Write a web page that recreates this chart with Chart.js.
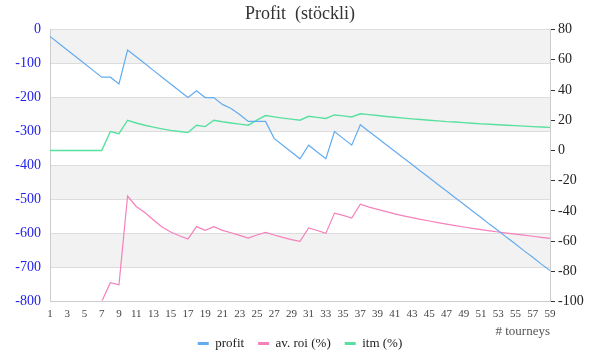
<!DOCTYPE html>
<html><head><meta charset="utf-8">
<script src="https://cdn.jsdelivr.net/npm/chart.js@4.4.0/dist/chart.umd.min.js"></script>
<style>html,body{margin:0;padding:0;background:#fff}</style>
</head><body>
<canvas id="c" width="600" height="360"></canvas>
<script>
const tourneys = ['1','2','3','4','5','6','7','8','9','10','11','12','13','14','15','16','17','18','19','20',
  '21','22','23','24','25','26','27','28','29','30','31','32','33','34','35','36','37','38','39','40',
  '41','42','43','44','45','46','47','48','49','50','51','52','53','54','55','56','57','58','59'];

const profit = [-20,-40,-60,-80,-100,-120,-140,-140,-160,-60,
  -80,-100,-120,-140,-160,-180,-200,-180,-200,-200,
  -220,-232,-250,-270,-270,-270,-320,-340,-360,-380,
  -340,-360,-380,-300,-320,-340,-280,-300,-319,-339,
  -358,-378,-397,-417,-436,-456,-475,-495,-514,-534,
  -553,-573,-592,-612,-631,-651,-670,-690,-709];

const avRoi = [-100,-100,-100,-100,-100,-100,-100,-87.6,-88.9,-30.2,
  -37.1,-41.1,-46,-50.7,-54,-56.5,-58.7,-50.4,-52.9,-50.4,
  -52.9,-54.5,-56.2,-58,-56,-54.2,-56,-57.6,-59,-60.2,
  -51.3,-53,-54.9,-41.5,-43,-44.7,-35.6,-37.5,-39,-40.5,
  -42,-43.3,-44.5,-45.6,-46.7,-47.8,-48.8,-49.8,-50.7,-51.6,
  -52.4,-53.2,-54,-54.7,-55.4,-56.1,-56.8,-57.5,-58.2];

const itm = [0,0,0,0,0,0,0,12.5,11.1,20,
  18.2,16.7,15.4,14.3,13.3,12.5,11.8,16.7,15.8,20,
  19.0,18.2,17.4,16.7,20,23.1,22.2,21.4,20.7,20,
  22.6,21.9,21.2,23.5,22.9,22.2,24.3,23.7,23.1,22.5,
  22.0,21.4,20.9,20.5,20,19.6,19.1,18.8,18.4,18,
  17.6,17.3,17,16.7,16.4,16.1,15.8,15.5,15.3];

const leftTicks = {min: -800, max: 0, step: 100};
const rightTicks = {min: -100, max: 80, step: 10, labelEvery: 20};

const SERIF = "'Liberation Serif', 'DejaVu Serif', serif";

const bandPlugin = {
  id: 'bands',
  beforeDraw(chart) {
    const {ctx, chartArea} = chart;
    const y = chart.scales.yL;
    ctx.save();
    ctx.fillStyle = '#f2f2f2';
    for (let v = leftTicks.max; v > leftTicks.min; v -= 2 * leftTicks.step) {
      const t = y.getPixelForValue(v), b = y.getPixelForValue(v - leftTicks.step);
      ctx.fillRect(chartArea.left, t, chartArea.right - chartArea.left, b - t);
    }
    ctx.restore();
  }
};

new Chart(document.getElementById('c'), {
  type: 'line',
  data: {
    labels: tourneys,
    datasets: [
      {label: 'profit', data: profit, yAxisID: 'yL', borderColor: 'rgb(100,172,240)', borderWidth: 1.2, pointRadius: 0, tension: 0},
      {label: 'av. roi (%)', data: avRoi, yAxisID: 'yR', borderColor: 'rgb(245,128,188)', borderWidth: 1.2, pointRadius: 0, tension: 0,
       clip: {left: 2, top: 2, right: 2, bottom: -1}},
      {label: 'itm (%)', data: itm, yAxisID: 'yR', borderColor: 'rgb(88,224,160)', borderWidth: 1.4, pointRadius: 0, tension: 0}
    ]
  },
  options: {
    responsive: false,
    animation: false,
    devicePixelRatio: 1,
    layout: {padding: {left: 0, right: 0, top: 0, bottom: 0}},
    plugins: {
      title: {display: true, text: 'Profit  (stöckli)', color: '#333',
        font: {family: SERIF, size: 18, weight: 'normal', lineHeight: 1.2}, padding: {top: 3, bottom: 5}},
      legend: {position: 'bottom',
        labels: {font: {family: SERIF, size: 13}, color: '#222', usePointStyle: true, pointStyle: 'line',
          pointStyleWidth: 11, boxHeight: 13, padding: 14,
          generateLabels(chart) {
            const items = Chart.defaults.plugins.legend.labels.generateLabels(chart);
            items.forEach(it => { it.lineWidth = 3; it.pointStyle = 'line'; });
            return items;
          }}},
      tooltip: {enabled: false}
    },
    scales: {
      x: {
        type: 'category',
        offset: false,
        grid: {display: false},
        border: {display: true, color: '#cccccc'},
        ticks: {autoSkip: false, maxRotation: 0, minRotation: 0, padding: -1.5, color: '#444',
          font: {family: SERIF, size: 11},
          callback(v, i) { return i % 2 === 0 ? this.getLabelForValue(v) : ''; }},
        title: {display: true, text: '# tourneys', align: 'end', color: '#555',
          font: {family: SERIF, size: 13}, padding: {top: 0, bottom: -16.3}},
        afterFit(s) { s.height = 21.5; }
      },
      yL: {
        position: 'left',
        min: leftTicks.min, max: leftTicks.max,
        grid: {color: '#dddddd', drawTicks: false},
        border: {display: true, color: '#cccccc'},
        ticks: {stepSize: leftTicks.step, padding: 9, color: '#2222ee', font: {family: SERIF, size: 14}},
        afterFit(s) { s.width = 50; }
      },
      yR: {
        position: 'right',
        min: rightTicks.min, max: rightTicks.max,
        grid: {drawOnChartArea: false, drawTicks: true, tickLength: 5, tickColor: '#333', color: '#333'},
        border: {display: true, color: '#cccccc'},
        ticks: {stepSize: rightTicks.step, padding: 3, color: '#222', font: {family: SERIF, size: 14},
          callback(v) { return v % rightTicks.labelEvery === 0 ? String(v) : ''; }},
        afterFit(s) { s.width = 50; }
      }
    }
  },
  plugins: [bandPlugin]
});
</script>
</body></html>
